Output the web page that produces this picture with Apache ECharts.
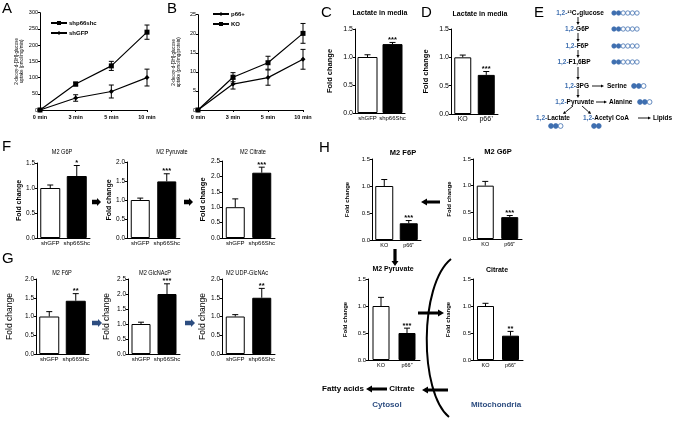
<!DOCTYPE html>
<html><head><meta charset="utf-8">
<script src="https://cdn.jsdelivr.net/npm/echarts@6/dist/echarts.min.js"></script>
<style>html,body{margin:0;padding:0;background:#fff}#c{width:675px;height:421px}</style>
</head><body><div id="c"></div>
<script>
// ---------------- data ----------------
const timeCats = ['0 min', '3 min', '5 min', '10 min'];
const aShp66 = [0, 80, 136, 240];
const aShp66Err = [0, 6, 14, 22];
const aGFP = [0, 37, 57, 100];
const aGFPErr = [0, 10, 20, 26];
const bKO = [0, 8.6, 12.4, 20.1];
const bKOErr = [0, 1.2, 1.7, 2.6];
const bP66 = [0, 6.8, 8.5, 13.3];
const bP66Err = [0, 1.3, 2.0, 2.6];

const shCats = ['shGFP', 'shp66Shc'];
const koCats = ['KO', 'p66\u207A'];

const cVals = [1.0, 1.23], cErrs = [0.04, 0.03], cStars = ['', '***'];
const dVals = [1.0, 0.69], dErrs = [0.04, 0.06], dStars = ['', '***'];
const fG6P = [1.0, 1.24], fG6PErr = [0.06, 0.21], fG6PStars = ['', '*'];
const fPyr = [1.0, 1.49], fPyrErr = [0.05, 0.20], fPyrStars = ['', '***'];
const fCit = [1.0, 2.12], fCitErr = [0.27, 0.18], fCitStars = ['', '***'];
const gF6P = [1.0, 1.42], gF6PErr = [0.13, 0.19], gF6PStars = ['', '**'];
const gGlc = [1.0, 2.0], gGlcErr = [0.06, 0.34], gGlcStars = ['', '***'];
const gUdp = [1.0, 1.5], gUdpErr = [0.05, 0.25], gUdpStars = ['', '**'];
const hF6P = [1.0, 0.31], hF6PErr = [0.12, 0.05], hF6PStars = ['', '***'];
const hG6P = [1.0, 0.41], hG6PErr = [0.08, 0.03], hG6PStars = ['', '***'];
const hPyr = [1.0, 0.50], hPyrErr = [0.16, 0.09], hPyrStars = ['', '***'];
const hCit = [1.0, 0.45], hCitErr = [0.05, 0.08], hCitStars = ['', '**'];

// ---------------- layout ----------------
const FF = "'Liberation Sans', Arial, sans-serif";
const BLUE = '#3f6fb0';
const DBLUE = '#2d4d80';

const linePanels = [
  {cats: timeCats, series: [
     {name: 'shp66shc', vals: aShp66, errs: aShp66Err, sym: 'rect', ss: 5},
     {name: 'shGFP', vals: aGFP, errs: aGFPErr, sym: 'diamond', ss: 5}],
   ax: 40, end: 147, top: 12.7, bot: 110, max: 300, step: 50,
   yname: '2-deoxy-d-[3H]-glucose\nuptake (pmol/mg/min)', ngap: 14,
   legend: ['shp66shc', 'shGFP'], lx: 50, ly: 20},
  {cats: timeCats, series: [
     {name: 'KO', vals: bKO, errs: bKOErr, sym: 'rect', ss: 5},
     {name: 'p66+', vals: bP66, errs: bP66Err, sym: 'diamond', ss: 5}],
   ax: 198, end: 303, top: 14.7, bot: 110, max: 25, step: 5,
   yname: '2-deoxy-d-[3H]-glucose\nuptake (pmol/mg/protein)', ngap: 16,
   legend: ['p66+', 'KO'], lx: 212, ly: 11}
];

const barPanels = [
  {vals: cVals, errs: cErrs, stars: cStars, cats: shCats, ax: 355, end: 405, top: 29, bot: 113, max: 1.5, step: 0.5, bw: 20,
   title: 'Lactate in media', tx: 380, ty: 13, tb: 'bold', ts: 7, sx: 1, yx: 334, yns: 7.5, ynb: 'bold', ls: 6, lb: 'normal', ts2: 7},
  {vals: dVals, errs: dErrs, stars: dStars, cats: koCats, ax: 451, end: 498, top: 29, bot: 114, max: 1.5, step: 0.5, bw: 17,
   title: 'Lactate in media', tx: 480, ty: 14, tb: 'bold', ts: 7, sx: 1, yx: 430, yns: 7.5, ynb: 'bold', ls: 7, lb: 'normal', ts2: 7},
  {vals: fG6P, errs: fG6PErr, stars: fG6PStars, cats: shCats, ax: 37, end: 90, top: 163, bot: 238, max: 1.5, step: 0.5, bw: 20,
   title: 'M2 G6P', tx: 62, ty: 152, tb: 'normal', ts: 7, sx: 0.8, yx: 25, yns: 7, ynb: 'bold', ls: 6, lb: 'normal', ts2: 6.5},
  {vals: fPyr, errs: fPyrErr, stars: fPyrStars, cats: shCats, ax: 127, end: 180, top: 162, bot: 238, max: 2.0, step: 0.5, bw: 19,
   title: 'M2 Pyruvate', tx: 172, ty: 152, tb: 'normal', ts: 7, sx: 0.8, yx: 116, yns: 7, ynb: 'bold', ls: 6, lb: 'normal', ts2: 6.5},
  {vals: fCit, errs: fCitErr, stars: fCitStars, cats: shCats, ax: 222, end: 275, top: 161, bot: 238, max: 2.5, step: 0.5, bw: 19,
   title: 'M2 Citrate', tx: 253, ty: 152, tb: 'normal', ts: 7, sx: 0.8, yx: 211, yns: 7.5, ynb: 'bold', ls: 6, lb: 'normal', ts2: 6.5},
  {vals: gF6P, errs: gF6PErr, stars: gF6PStars, cats: shCats, ax: 36, end: 89, top: 279, bot: 354, max: 2.0, step: 0.5, bw: 20,
   title: 'M2 F6P', tx: 62, ty: 273, tb: 'normal', ts: 7, sx: 0.8, yx: 14, yns: 8.5, ynb: 'normal', ls: 6, lb: 'normal', ts2: 6.5},
  {vals: gGlc, errs: gGlcErr, stars: gGlcStars, cats: shCats, ax: 128, end: 180, top: 279, bot: 354, max: 2.5, step: 0.5, bw: 19,
   title: 'M2 GlcNAcP', tx: 155, ty: 273, tb: 'normal', ts: 7, sx: 0.8, yx: 111, yns: 8.5, ynb: 'normal', ls: 6, lb: 'normal', ts2: 6.5},
  {vals: gUdp, errs: gUdpErr, stars: gUdpStars, cats: shCats, ax: 222, end: 275, top: 279, bot: 354, max: 2.0, step: 0.5, bw: 19,
   title: 'M2 UDP-GlcNAc', tx: 247, ty: 273, tb: 'normal', ts: 7, sx: 0.8, yx: 208, yns: 8.5, ynb: 'normal', ls: 6, lb: 'normal', ts2: 6.5},
  {vals: hF6P, errs: hF6PErr, stars: hF6PStars, cats: koCats, ax: 372, end: 421, top: 159, bot: 240, max: 1.5, step: 0.5, bw: 18,
   title: 'M2 F6P', tx: 403, ty: 153, tb: 'bold', ts: 7.5, sx: 1, yx: 350, yns: 6, ynb: 'bold', ls: 5.5, lb: 'normal', ts2: 6},
  {vals: hG6P, errs: hG6PErr, stars: hG6PStars, cats: koCats, ax: 473, end: 522, top: 159, bot: 239, max: 1.5, step: 0.5, bw: 17,
   title: 'M2 G6P', tx: 498, ty: 152, tb: 'bold', ts: 7.5, sx: 1, yx: 452, yns: 6, ynb: 'bold', ls: 5.5, lb: 'normal', ts2: 6},
  {vals: hPyr, errs: hPyrErr, stars: hPyrStars, cats: koCats, ax: 368, end: 420, top: 279, bot: 360, max: 1.5, step: 0.5, bw: 17,
   title: 'M2 Pyruvate', tx: 393, ty: 269, tb: 'bold', ts: 7, sx: 1, yx: 348, yns: 6, ynb: 'bold', ls: 5.5, lb: 'normal', ts2: 6},
  {vals: hCit, errs: hCitErr, stars: hCitStars, cats: koCats, ax: 473, end: 523, top: 279, bot: 360, max: 1.5, step: 0.5, bw: 17,
   title: 'Citrate', tx: 497, ty: 270, tb: 'bold', ts: 7, sx: 1, yx: 451, yns: 6, ynb: 'bold', ls: 5.5, lb: 'normal', ts2: 6}
];

// ---------------- helpers ----------------
function errRenderer(stars, both, capW) {
  return function (params, api) {
    const i = api.value(0), v = api.value(1), e = api.value(2);
    const children = [];
    if (e > 0) {
      const top = api.coord([i, v + e]);
      const bot = api.coord([i, both ? v - e : v]);
      const ls = {stroke: '#000', lineWidth: 1};
      children.push({type: 'line', shape: {x1: top[0], y1: top[1], x2: bot[0], y2: bot[1]}, style: ls});
      children.push({type: 'line', shape: {x1: top[0] - capW / 2, y1: top[1], x2: top[0] + capW / 2, y2: top[1]}, style: ls});
      if (both) children.push({type: 'line', shape: {x1: bot[0] - capW / 2, y1: bot[1], x2: bot[0] + capW / 2, y2: bot[1]}, style: ls});
      const s = stars ? stars[params.dataIndex] : '';
      if (s) children.push({type: 'text', style: {text: s, x: top[0], y: top[1] + 1.5, align: 'center', verticalAlign: 'bottom', fontSize: 7.5, fontWeight: 'bold', fontFamily: FF, fill: '#000'}});
    }
    return {type: 'group', children: children};
  };
}

function yAxisCfg(gi, p, fmt, tsz, name, nameStyle, gap) {
  return {type: 'value', gridIndex: gi, min: 0, max: p.max, interval: p.step,
    axisLine: {show: true, lineStyle: {color: '#000', width: 1}},
    axisTick: {show: true, length: 2, lineStyle: {color: '#000'}},
    axisLabel: {fontSize: tsz, color: '#000', margin: 2, fontFamily: FF, formatter: fmt},
    splitLine: {show: false},
    name: name, nameLocation: 'middle', nameGap: gap, nameRotate: 90, nameTextStyle: nameStyle};
}

function fatArrow(x1, y1, x2, y2, sw, hl, hw, color) {
  const dx = x2 - x1, dy = y2 - y1, L = Math.hypot(dx, dy), ux = dx / L, uy = dy / L, px = -uy, py = ux;
  const bx = x2 - ux * hl, by = y2 - uy * hl;
  return {type: 'polygon', shape: {points: [
    [x1 + px * sw, y1 + py * sw], [bx + px * sw, by + py * sw], [bx + px * hw, by + py * hw], [x2, y2],
    [bx - px * hw, by - py * hw], [bx - px * sw, by - py * sw], [x1 - px * sw, y1 - py * sw]]},
    style: {fill: color}, z: 10};
}

function thinArrow(x1, y1, x2, y2) {
  const dx = x2 - x1, dy = y2 - y1, L = Math.hypot(dx, dy), ux = dx / L, uy = dy / L, px = -uy, py = ux;
  const hl = 3, hw = 1.6, bx = x2 - ux * hl, by = y2 - uy * hl;
  return [
    {type: 'line', shape: {x1: x1, y1: y1, x2: bx, y2: by}, style: {stroke: '#000', lineWidth: 0.9}, z: 10},
    {type: 'polygon', shape: {points: [[x2, y2], [bx + px * hw, by + py * hw], [bx - px * hw, by - py * hw]]}, style: {fill: '#000'}, z: 10}
  ];
}

function txt(x, y, s, o) {
  o = o || {};
  return {type: 'text', z: 10, x: x, y: y, scaleX: o.sx || 1,
    style: {text: s, x: 0, y: 0, align: o.align || 'left', verticalAlign: o.va || 'middle',
    fontSize: o.size || 7, fontWeight: o.weight || 'bold', fontFamily: FF, fill: o.color || '#000',
    rich: o.rich}};
}

function eTxt(x, y, s, align) {
  return txt(x, y, '{b|1,2-}' + s, {align: align, size: 6.5,
    rich: {b: {fill: BLUE, fontSize: 6.5, fontWeight: 'bold', fontFamily: FF}}});
}

function dots(x0, y, nBlue, nWhite, r, gap) {
  const out = [];
  for (let k = 0; k < nBlue + nWhite; k++) {
    const blue = k < nBlue;
    out.push({type: 'circle', z: 10, shape: {cx: x0 + k * gap, cy: y, r: r},
      style: {fill: blue ? BLUE : '#fff', stroke: BLUE, lineWidth: 0.8}});
  }
  return out;
}

// ---------------- build option ----------------
const grids = [], xAxes = [], yAxes = [], series = [], legends = [];
let gi = 0;

linePanels.forEach(p => {
  grids.push({left: p.ax, top: p.top, width: p.end - p.ax, height: p.bot - p.top});
  xAxes.push({type: 'category', gridIndex: gi, data: p.cats, boundaryGap: false,
    axisLine: {lineStyle: {color: '#000', width: 1}}, axisTick: {show: true, length: 2, alignWithLabel: true, lineStyle: {color: '#000'}},
    axisLabel: {fontSize: 5.5, fontWeight: 'bold', color: '#000', margin: 4, fontFamily: FF}});
  yAxes.push(yAxisCfg(gi, p, v => String(v), 5.5, p.yname,
    {fontSize: 4.5, fontFamily: FF, color: '#000', lineHeight: 5.5}, p.ngap));
  p.series.forEach(s => {
    series.push({type: 'line', name: s.name, xAxisIndex: gi, yAxisIndex: gi, data: s.vals,
      symbol: s.sym, symbolSize: s.ss, lineStyle: {color: '#000', width: 1.2}, itemStyle: {color: '#000'},
      animation: false, z: 4});
    series.push({type: 'custom', xAxisIndex: gi, yAxisIndex: gi, data: s.vals.map((v, i) => [i, v, s.errs[i]]),
      renderItem: errRenderer(null, true, 5), animation: false, z: 3, silent: true});
  });
  legends.push({data: p.legend, left: p.lx, top: p.ly, orient: 'vertical', itemWidth: 16, itemHeight: 5, itemGap: 4,
    textStyle: {fontSize: 6, fontWeight: 'bold', color: '#000', fontFamily: FF, padding: [0, 0, 0, -3]}, padding: 0});
  gi++;
});

const gfx = [];
barPanels.forEach(p => {
  grids.push({left: p.ax, top: p.top, width: p.end - p.ax, height: p.bot - p.top});
  xAxes.push({type: 'category', gridIndex: gi, data: p.cats,
    axisLine: {lineStyle: {color: '#000', width: 1}}, axisTick: {show: false},
    axisLabel: {fontSize: p.ls, fontWeight: p.lb, color: '#000', margin: 2, fontFamily: FF, interval: 0}});
  yAxes.push(yAxisCfg(gi, p, v => v.toFixed(1), p.ts2, 'Fold change',
    {fontSize: p.yns, fontWeight: p.ynb, fontFamily: FF, color: '#000'}, p.ax - p.yx));
  series.push({type: 'bar', xAxisIndex: gi, yAxisIndex: gi, barWidth: p.bw, animation: false,
    data: p.vals.map((v, i) => ({value: v, itemStyle: i === 0 ? {color: '#fff', borderColor: '#000', borderWidth: 1} : {color: '#000', borderColor: '#000', borderWidth: 1}}))});
  series.push({type: 'custom', xAxisIndex: gi, yAxisIndex: gi, data: p.vals.map((v, i) => [i, v, p.errs[i]]),
    renderItem: errRenderer(p.stars, false, 6), animation: false, z: 3, silent: true});
  gfx.push(txt(p.tx, p.ty, p.title, {align: 'center', size: p.ts, weight: p.tb, sx: p.sx}));
  gi++;
});

// panel letters
[['A', 2, 9], ['B', 167, 9], ['C', 321, 13], ['D', 421, 13], ['E', 534, 13], ['F', 2, 147], ['G', 2, 259], ['H', 319, 148]]
  .forEach(l => gfx.push(txt(l[1], l[2], l[0], {size: 15, weight: 'normal'})));

// F & G arrows
gfx.push(fatArrow(92, 202, 101, 202, 2.2, 4, 4, '#000'));
gfx.push(fatArrow(184, 202, 193, 202, 2.2, 4, 4, '#000'));
gfx.push(fatArrow(92, 323, 102, 323, 2.2, 4, 4, DBLUE));
gfx.push(fatArrow(185, 323, 195, 323, 2.2, 4, 4, DBLUE));

// H decorations
gfx.push(fatArrow(440, 202, 421, 202, 1.6, 6, 3.5, '#000'));
gfx.push(fatArrow(395, 249, 395, 266, 1.6, 5, 3.5, '#000'));
gfx.push(fatArrow(418, 313, 444, 313, 1.6, 6, 3.5, '#000'));
gfx.push(fatArrow(387, 389, 366, 389, 1.6, 6, 3.5, '#000'));
gfx.push(fatArrow(448, 390, 422, 390, 1.6, 6, 3.5, '#000'));
gfx.push({type: 'bezierCurve', z: 10, shape: {x1: 451, y1: 259, cpx1: 419, cpy1: 285, cpx2: 419, cpy2: 392, x2: 449, y2: 417},
  style: {stroke: '#000', lineWidth: 2, fill: null}});
gfx.push(txt(343, 389, 'Fatty acids', {align: 'center', size: 8}));
gfx.push(txt(402, 389, 'Citrate', {align: 'center', size: 8}));
gfx.push(txt(387, 405, 'Cytosol', {align: 'center', size: 8, color: DBLUE}));
gfx.push(txt(496, 405, 'Mitochondria', {align: 'center', size: 8, color: DBLUE}));

// E pathway
gfx.push(eTxt(580, 13, '\u00B9\u00B3C\u2082glucose', 'center'));
gfx.push(...dots(614, 13, 2, 4, 2.2, 4.6));
gfx.push(...thinArrow(578, 17, 578, 25));
gfx.push(eTxt(577, 29, 'G6P', 'center'));
gfx.push(...dots(614, 29, 2, 4, 2.2, 4.6));
gfx.push(...thinArrow(578, 33, 578, 42));
gfx.push(eTxt(577, 46, 'F6P', 'center'));
gfx.push(...dots(614, 46, 2, 4, 2.2, 4.6));
gfx.push(...thinArrow(578, 50, 578, 58));
gfx.push(eTxt(574, 62, 'F1,6BP', 'center'));
gfx.push(...dots(614, 62, 2, 4, 2.2, 4.6));
gfx.push(...thinArrow(578, 67, 578, 80));
gfx.push(eTxt(589, 86, '3PG', 'right'));
gfx.push(...thinArrow(592, 86, 604, 86));
gfx.push(txt(607, 86, 'Serine', {size: 6.5}));
gfx.push(...dots(634, 86, 2, 1, 2.4, 4.8));
gfx.push(...thinArrow(578, 89, 578, 98));
gfx.push(eTxt(594, 102, 'Pyruvate', 'right'));
gfx.push(...thinArrow(596, 102, 607, 102));
gfx.push(txt(609, 102, 'Alanine', {size: 6.5}));
gfx.push(...dots(640, 102, 2, 1, 2.4, 4.8));
gfx.push(...thinArrow(573, 106, 563, 114));
gfx.push(...thinArrow(582, 106, 591, 114));
gfx.push(eTxt(536, 118, 'Lactate', 'left'));
gfx.push(eTxt(583, 118, 'Acetyl CoA', 'left'));
gfx.push(...thinArrow(638, 118, 651, 118));
gfx.push(txt(653, 118, 'Lipids', {size: 6.5}));
gfx.push(...dots(551, 126, 2, 1, 2.4, 4.8));
gfx.push(...dots(594, 126, 2, 0, 2.4, 4.8));

const chart = echarts.init(document.getElementById('c'), null, {renderer: 'canvas'});
chart.setOption({
  backgroundColor: '#fff',
  animation: false,
  textStyle: {fontFamily: FF},
  grid: grids, xAxis: xAxes, yAxis: yAxes, series: series, legend: legends,
  graphic: gfx
});
</script>
</body></html>
